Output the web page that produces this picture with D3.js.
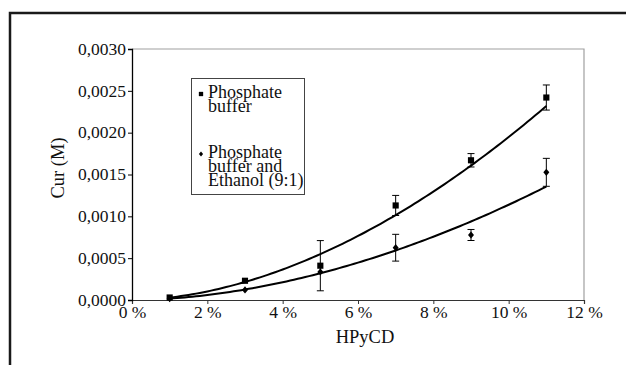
<!DOCTYPE html>
<html>
<head>
<meta charset="utf-8">
<script src="https://cdn.jsdelivr.net/npm/d3@7"></script>
<style>
  body { margin: 0; background: #fff; }
</style>
</head>
<body>
<svg width="627" height="365"></svg>
<script>
// HPyCD concentration (%)
const hpcd = [1, 3, 5, 7, 9, 11];
// Cur (M), phosphate buffer
const phosphate = [0.00003, 0.00023, 0.00041, 0.00113, 0.00167, 0.00242];
const phosphateErr = [0.00001, 0.00002, 0.0003, 0.00012, 0.00008, 0.00015];
// Cur (M), phosphate buffer and ethanol (9:1)
const ethanol = [0.000017, 0.00012, 0.000335, 0.000625, 0.000777, 0.001526];
const ethanolErr = [0, 0, 0, 0.00016, 0.000066, 0.000167];

const xTicks = [0, 2, 4, 6, 8, 10, 12];
const yTicks = [0, 0.0005, 0.001, 0.0015, 0.002, 0.0025, 0.003];

const FONT = "'Liberation Serif', 'Times New Roman', Times, serif";

const svg = d3.select("svg");

// outer frame (only top and left edges are visible)
svg.append("path").attr("d", "M10,365V13H626")
  .attr("fill", "none").attr("stroke", "#1a1a1a").attr("stroke-width", 2.5);

const margin = {left: 132, top: 49, right: 43, bottom: 65};
const width = 627 - margin.left - margin.right;
const height = 365 - margin.top - margin.bottom;

const g = svg.append("g").attr("transform", "translate(" + margin.left + "," + margin.top + ")");

const x = d3.scaleLinear().domain([0, 12]).range([0, width]);
const y = d3.scaleLinear().domain([0, 0.003]).range([height, 0]);

// top and right plot border in grey
g.append("path").attr("d", "M0,0H" + width + "V" + height)
  .attr("fill", "none").attr("stroke", "#a0a0a0").attr("stroke-width", 1.2);

const fmtY = (v) => d3.format(".4f")(v).replace(".", ",");

const xAxis = g.append("g")
  .attr("transform", "translate(0," + height + ")")
  .call(d3.axisBottom(x).tickValues(xTicks).tickSize(4).tickPadding(2).tickFormat((v) => v + " %"));
xAxis.attr("font-family", FONT).attr("font-size", 17.5);
xAxis.select(".domain").attr("stroke", "#333").attr("stroke-width", 1.2);
xAxis.selectAll(".tick line").attr("stroke", "#333");
xAxis.selectAll(".tick text").attr("fill", "#111");

const yAxis = g.append("g")
  .call(d3.axisLeft(y).tickValues(yTicks).tickSize(4).tickPadding(2).tickFormat(fmtY));
yAxis.attr("font-family", FONT).attr("font-size", 17.5);
yAxis.select(".domain").attr("stroke", "#000").attr("stroke-width", 1.3);
yAxis.selectAll(".tick line").attr("stroke", "#000");
yAxis.selectAll(".tick text").attr("fill", "#111").attr("dy", "0.3em");

svg.append("text")
  .attr("font-family", FONT).attr("font-size", 18.5).attr("fill", "#111")
  .attr("text-anchor", "middle")
  .attr("x", 365).attr("y", 343)
  .text("HPyCD");
svg.append("text")
  .attr("font-family", FONT).attr("font-size", 18.5).attr("fill", "#111")
  .attr("text-anchor", "middle")
  .attr("transform", "translate(64,168)rotate(-90)")
  .text("Cur (M)");

// power trendline y = a*x^b, least squares on the logs (like a spreadsheet power trendline)
function powerFit(xs, ys) {
  const lx = xs.map(Math.log), ly = ys.map(Math.log);
  const mx = d3.mean(lx), my = d3.mean(ly);
  const b = d3.sum(lx, (v, i) => (v - mx) * (ly[i] - my)) / d3.sum(lx, (v) => (v - mx) * (v - mx));
  const a = Math.exp(my - b * mx);
  return (xv) => a * Math.pow(xv, b);
}

const line = d3.line().x((d) => x(d[0])).y((d) => y(d[1]));

function drawSeries(vals, errs, symbol) {
  const fit = powerFit(hpcd, vals);
  const lo = hpcd[0], hi = hpcd[hpcd.length - 1];
  const pts = d3.range(0, 101).map((i) => { const xv = lo + (hi - lo) * i / 100; return [xv, fit(xv)]; });
  g.append("path").datum(pts).attr("d", line)
    .attr("fill", "none").attr("stroke", "#000").attr("stroke-width", 2);

  const data = hpcd.map((xv, i) => ({x: xv, v: vals[i], e: errs[i]}));
  const eb = g.append("g").selectAll("g").data(data.filter((d) => d.e > 0.00003)).enter().append("g")
    .attr("stroke", "#000").attr("stroke-width", 1);
  eb.append("line").attr("x1", (d) => x(d.x)).attr("x2", (d) => x(d.x))
    .attr("y1", (d) => y(d.v - d.e)).attr("y2", (d) => y(d.v + d.e));
  eb.append("line").attr("x1", (d) => x(d.x) - 3.5).attr("x2", (d) => x(d.x) + 3.5)
    .attr("y1", (d) => y(d.v - d.e)).attr("y2", (d) => y(d.v - d.e));
  eb.append("line").attr("x1", (d) => x(d.x) - 3.5).attr("x2", (d) => x(d.x) + 3.5)
    .attr("y1", (d) => y(d.v + d.e)).attr("y2", (d) => y(d.v + d.e));

  g.append("g").selectAll("path").data(data).enter().append("path")
    .attr("transform", (d) => "translate(" + x(d.x) + "," + y(d.v) + ")")
    .attr("d", symbol).attr("fill", "#000");
}

const square = d3.symbol().type(d3.symbolSquare).size(38)();
const diamond = "M0,-3.6L3,0L0,3.6L-3,0Z";

drawSeries(phosphate, phosphateErr, square);
drawSeries(ethanol, ethanolErr, diamond);

// legend
const legend = svg.append("g");
legend.append("rect").attr("x", 191.5).attr("y", 78.5).attr("width", 113).attr("height", 116)
  .attr("fill", "#fff").attr("stroke", "#444").attr("stroke-width", 1);
const legendItems = [
  {sym: square, sy: 94, lines: ["Phosphate", "buffer"], base: 98},
  {sym: diamond, sy: 154, lines: ["Phosphate", "buffer and", "Ethanol (9:1)"], base: 157.5}
];
legendItems.forEach((it) => {
  legend.append("path").attr("d", it.sym).attr("fill", "#000")
    .attr("transform", "translate(201," + it.sy + ") scale(0.7)");
  const t = legend.append("text")
    .attr("font-family", FONT).attr("font-size", 18).attr("fill", "#111")
    .attr("y", it.base);
  it.lines.forEach((s, i) => {
    t.append("tspan").attr("x", 208).attr("dy", i == 0 ? 0 : 14).text(s);
  });
});
</script>
</body>
</html>
